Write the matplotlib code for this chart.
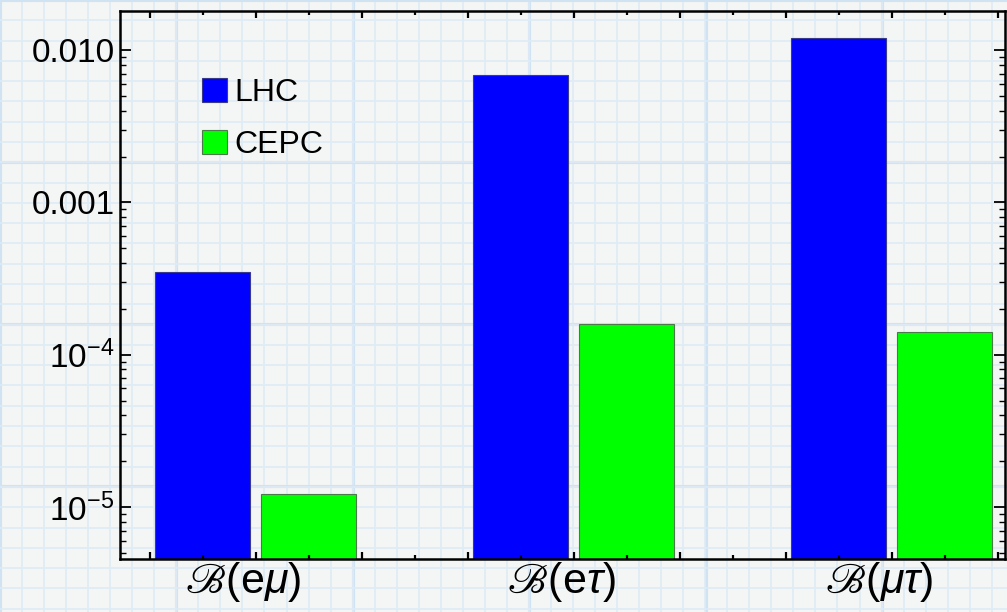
import numpy as np
import matplotlib
matplotlib.use("Agg")
import matplotlib.pyplot as plt
from matplotlib.ticker import FixedLocator, LogLocator, NullFormatter

# data (log scale)
channels = [r"$ℬ(\mathrm{e}\mu)$", r"$ℬ(\mathrm{e}\tau)$", r"$ℬ(\mu\tau)$"]
lhc = [3.5e-4, 6.9e-3, 1.2e-2]
cepc = [1.22e-5, 1.6e-4, 1.4e-4]
ytick_vals = [1e-5, 1e-4, 1e-3, 1e-2]
ytick_labels = [r"$10^{-5}$", r"$10^{-4}$", "0.001", "0.010"]

plt.rcParams["font.family"] = ["Liberation Sans", "DejaVu Sans"]
plt.rcParams["mathtext.fontset"] = "custom"
plt.rcParams["mathtext.rm"] = "Liberation Sans"
plt.rcParams["mathtext.it"] = "Liberation Sans:italic"
plt.rcParams["mathtext.fallback"] = "stix"

W, H = 1007, 612
fig = plt.figure(figsize=(W / 100, H / 100), dpi=100, facecolor="#f4f5f5")

# graph-paper background
bg = fig.add_axes([0, 0, 1, 1], zorder=-10)
bg.set_xlim(0, W)
bg.set_ylim(H, 0)
bg.set_facecolor("#f4f5f5")
bg.set_xticks(np.arange(80 - 197, W, 197))
bg.set_xticks(np.arange(80 - 197, W, 24.6), minor=True)
bg.set_yticks(np.arange(71 - 195, H, 195))
bg.set_yticks(np.arange(71 - 195, H, 24.4), minor=True)
bg.grid(which="minor", color="#dfebf5", lw=1.2)
bg.grid(which="major", color="#cfe3f2", lw=2.2)
bg.tick_params(which="both", length=0, labelbottom=False, labelleft=False)
for s in bg.spines.values():
    s.set_visible(False)

# main axes
ax = fig.add_axes([120 / W, (H - 559) / H, (1005 - 120) / W, (559 - 11) / H])
ax.set_facecolor("none")
ax.set_yscale("log")

n = len(channels)
x_lhc = np.arange(n) * 3
x_cepc = x_lhc + 1
bottom = 1e-7
ax.bar(x_lhc, np.array(lhc) - bottom, bottom=bottom, width=0.9, color="#0000ff",
       edgecolor="#3a3a8a", linewidth=0.8, label="LHC")
ax.bar(x_cepc, np.array(cepc) - bottom, bottom=bottom, width=0.9, color="#00ff00",
       edgecolor="#4a7a4a", linewidth=0.8, label="CEPC")

ax.set_xlim(-0.78, 7.57)
ax.set_ylim(4.55e-6, 0.0181)

ax.yaxis.set_major_locator(FixedLocator(ytick_vals))
ax.set_yticklabels(ytick_labels)
ax.yaxis.set_minor_locator(LogLocator(base=10, subs=np.arange(2, 10)))
ax.yaxis.set_minor_formatter(NullFormatter())

ax.set_xticks(np.arange(-0.5, 8, 1))
ax.set_xticks(np.arange(0, 8, 1), minor=True)
ax.set_xticklabels([])

ax.tick_params(axis="y", which="major", direction="in", length=8, width=1.3,
               right=True, labelsize=24, pad=4)
ax.tick_params(axis="y", which="minor", direction="in", length=4.5, width=1.0, right=True)
ax.tick_params(axis="x", which="major", direction="in", length=5, width=1.6, top=True)
ax.tick_params(axis="x", which="minor", direction="in", length=3, width=1.6, top=True)

for s in ax.spines.values():
    s.set_linewidth(1.8)
    s.set_color("black")

for i, lab in enumerate(channels):
    ax.annotate(lab, xy=(x_lhc[i] + 0.5, 0), xycoords=("data", "axes fraction"),
                xytext=(-9, -1), textcoords="offset points", ha="center", va="top",
                fontsize=31)

ax.legend(loc="upper left", bbox_to_anchor=(202 / W, (H - 78) / H),
          bbox_transform=fig.transFigure, frameon=False, fontsize=23,
          handlelength=0.78, handleheight=0.78, handletextpad=0.22,
          labelspacing=0.68, borderpad=0, borderaxespad=0)

fig.savefig("out.png", dpi=100, facecolor=fig.get_facecolor())
